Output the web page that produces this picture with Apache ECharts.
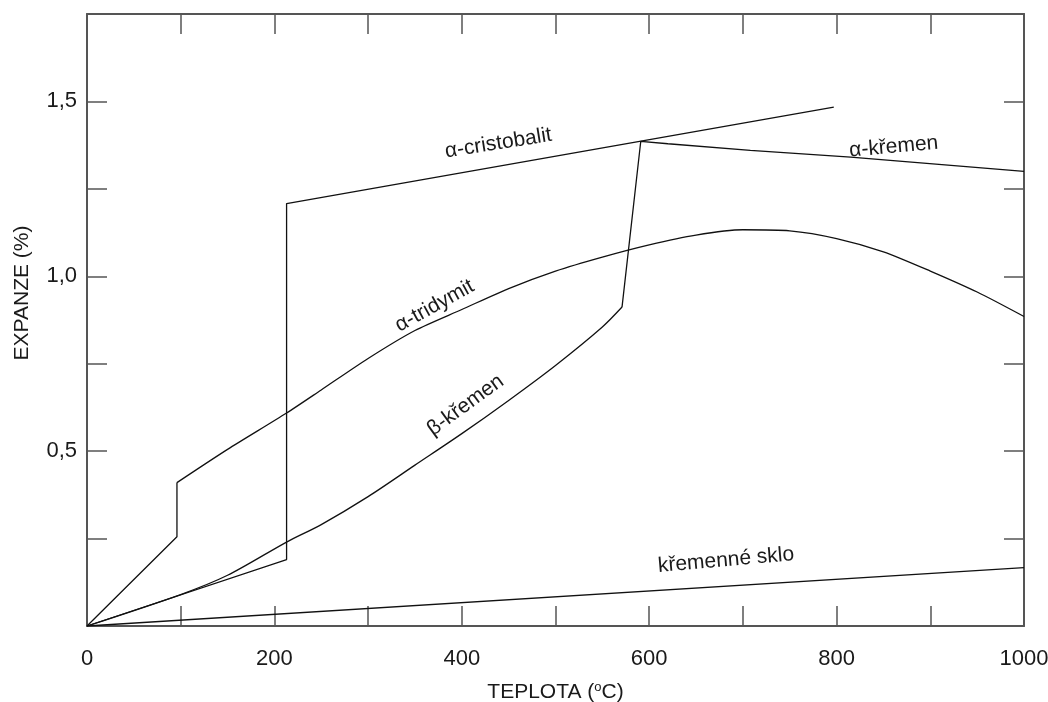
<!DOCTYPE html>
<html>
<head>
<meta charset="utf-8">
<script src="https://cdn.jsdelivr.net/npm/echarts@6/dist/echarts.min.js"></script>
<style>
html,body{margin:0;padding:0;background:#fff;}
#chart{width:1048px;height:702px;}
</style>
</head>
<body>
<div id="chart"></div>
<script>
// Data: [temperature °C, expansion %]
var cristobalit = [[0,0],[213,0.19],[213,1.208],[797,1.484]];
var tridymit = [[0,0],[96,0.255],[96,0.41],[150,0.505],[213,0.609],[250,0.675],[300,0.765],[350,0.845],[400,0.905],[450,0.965],[500,1.015],[550,1.055],[600,1.09],[650,1.118],[700,1.133],[750,1.13],[800,1.108],[850,1.07],[900,1.015],[950,0.955],[1000,0.885]];
var kremen = [[0,0],[100,0.09],[150,0.145],[213,0.24],[250,0.29],[300,0.37],[350,0.46],[400,0.55],[450,0.645],[500,0.745],[550,0.855],[571,0.912],[591,1.386],[620,1.379],[708,1.36],[815,1.341],[1000,1.30]];
var sklo = [[0,0],[1000,0.167]];
var xTickLabels = {0:'0',200:'200',400:'400',600:'600',800:'800',1000:'1000'};
var yTickLabels = {'0.5':'0,5','1':'1,0','1.5':'1,5'};
var curveLabels = ['α-cristobalit','α-křemen','α-tridymit','β-křemen','křemenné sklo'];
var curveLabelAnchors = [[439,1.38],[861,1.37],[371,0.915],[404,0.631],[682,0.188]];
var curveLabelAngles = [9,5,29,36,5];

var chart = echarts.init(document.getElementById('chart'));
var axisColor = '#555';
var textColor = '#1a1a1a';
var font = 'Liberation Sans, Arial, sans-serif';

function lineSeries(name, data, smooth){
  return {name:name,type:'line',data:data,showSymbol:false,symbol:'none',smooth:smooth||false,
    lineStyle:{color:'#111',width:1.3},xAxisIndex:0,yAxisIndex:0,animation:false,z:3};
}
function axisCommon(pos){
  return {
    position:pos,
    axisLine:{show:true,onZero:false,lineStyle:{color:axisColor,width:2}},
    axisTick:{show:true,inside:true,length:20,lineStyle:{color:axisColor,width:1.5}},
    splitLine:{show:false}
  };
}

var xBottom = Object.assign(axisCommon('bottom'),{
  type:'value',min:0,max:1000,interval:100,
  name:'TEPLOTA ({s|o}C)',nameLocation:'middle',nameGap:55,
  nameTextStyle:{color:textColor,fontSize:21,fontFamily:font,
    rich:{s:{fontSize:13,verticalAlign:'top',padding:[0,0,10,0],color:textColor,fontFamily:font}}},
  axisLabel:{margin:22,color:textColor,fontSize:22,fontFamily:font,
    formatter:function(v){return xTickLabels[v]!==undefined?xTickLabels[v]:'';}}
});
var xTop = Object.assign(axisCommon('top'),{type:'value',min:0,max:1000,interval:100,axisLabel:{show:false}});
var yLeft = Object.assign(axisCommon('left'),{
  type:'value',min:0,max:1.75,interval:0.25,
  axisLabel:{margin:10,color:textColor,fontSize:22,fontFamily:font,
    formatter:function(v){var k=String(Math.round(v*100)/100);return yTickLabels[k]!==undefined?yTickLabels[k]:'';}}
});
var yRight = Object.assign(axisCommon('right'),{type:'value',min:0,max:1.75,interval:0.25,axisLabel:{show:false}});

var option = {
  backgroundColor:'#fff',
  animation:false,
  grid:{left:87,right:24,top:14,bottom:76,show:false,containLabel:false,outerBoundsMode:'none'},
  xAxis:[xBottom,xTop],
  yAxis:[yLeft,yRight],
  series:[
    lineSeries('α-cristobalit',cristobalit),
    lineSeries('α-tridymit',tridymit.slice(0,3)),
    lineSeries('α-tridymit',tridymit.slice(2),0.25),
    lineSeries('β-křemen',kremen.slice(0,12),0.3),
    lineSeries('α-křemen',kremen.slice(11),false),
    lineSeries('křemenné sklo',sklo)
  ]
};
chart.setOption(option);

var graphics = [];
for (var i=0;i<curveLabels.length;i++){
  var p = chart.convertToPixel({gridIndex:0}, curveLabelAnchors[i]);
  graphics.push({type:'text',x:p[0],y:p[1],rotation:curveLabelAngles[i]*Math.PI/180,
    style:{text:curveLabels[i],fill:textColor,fontSize:21,fontFamily:font,align:'center',verticalAlign:'middle'},z:10});
}
graphics.push({type:'text',x:22,y:293,rotation:Math.PI/2,
  style:{text:'EXPANZE (%)',fill:textColor,fontSize:21,fontFamily:font,align:'center',verticalAlign:'middle'},z:10});
chart.setOption({graphic:graphics});
</script>
</body>
</html>
